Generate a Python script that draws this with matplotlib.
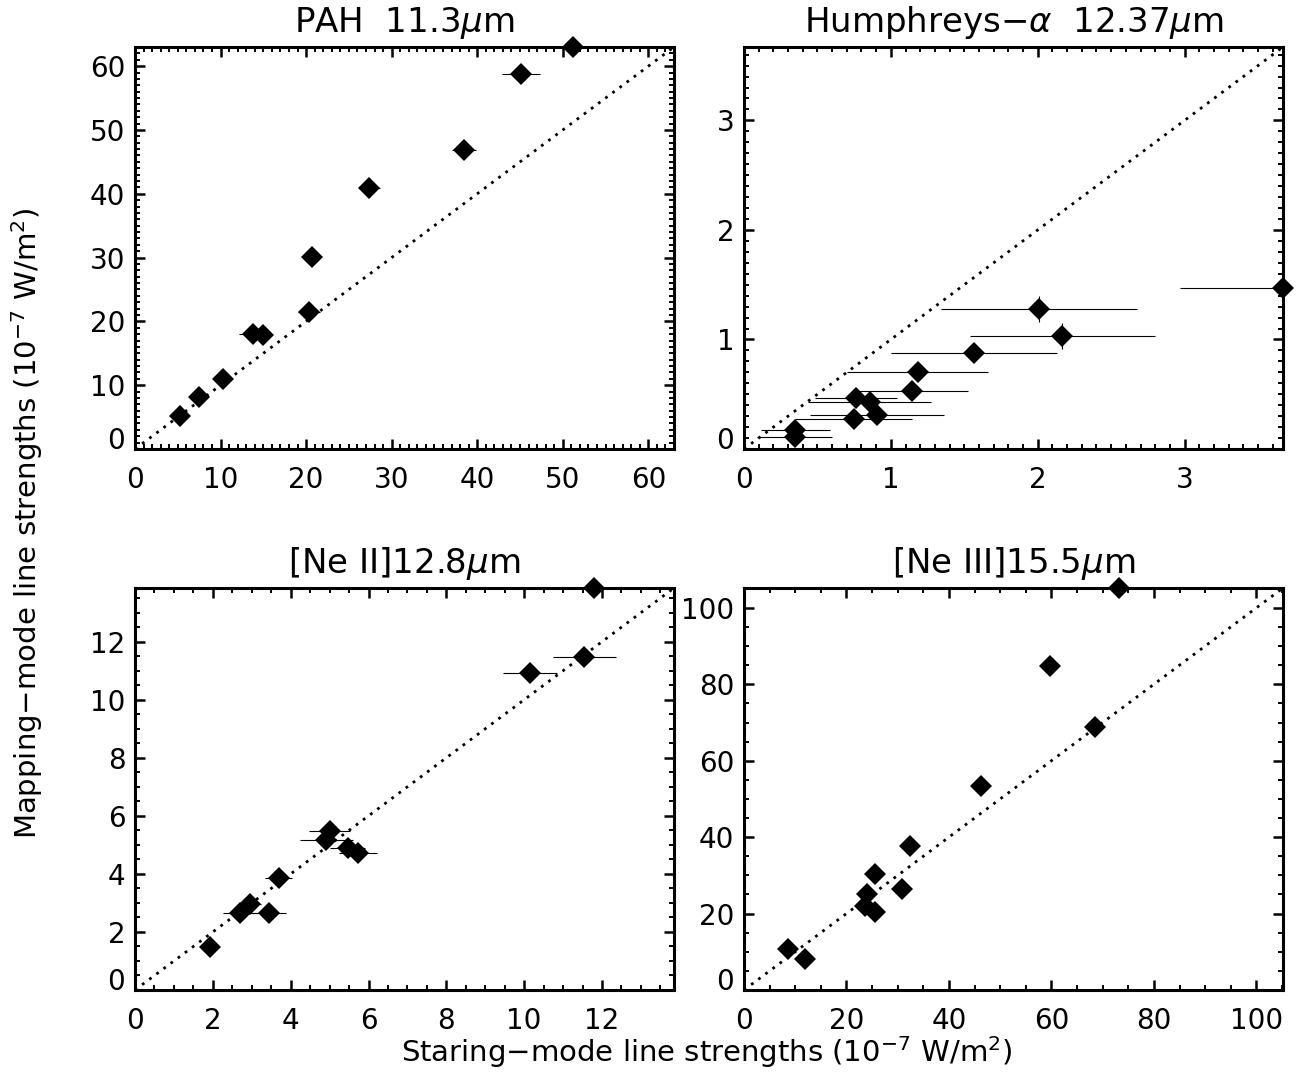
import matplotlib
matplotlib.use('Agg')
import matplotlib.pyplot as plt
from matplotlib.ticker import MultipleLocator

plt.rcParams['font.family'] = ['DejaVu Sans']
plt.rcParams['mathtext.fontset'] = 'dejavusans'

# ---------------- data ----------------
titles = ['PAH  11.3$\\mu$m', 'Humphreys\u2212$\\alpha$  12.37$\\mu$m',
          '[Ne II]12.8$\\mu$m', '[Ne III]15.5$\\mu$m']

pah_x = [5.25, 7.5, 10.3, 13.8, 15.0, 20.3, 20.7, 27.4, 38.4, 45.1, 51.2]
pah_y = [5.2, 8.2, 11.0, 18.0, 17.85, 21.5, 30.1, 40.9, 46.8, 58.8, 63.0]
pah_xerr = [0.5, 0.5, 0.4, 1.6, 0.8, 1.3, 0.5, 1.2, 1.4, 2.2, 0.6]
pah_yerr = [0.0] * 11

hum_x = [0.344, 0.348, 0.746, 0.761, 0.855, 0.907, 1.145, 1.184, 1.568, 2.009, 2.168, 3.67]
hum_y = [0.109, 0.178, 0.273, 0.469, 0.428, 0.31, 0.532, 0.705, 0.872, 1.276, 1.03, 1.47]
hum_xerr = [0.255, 0.235, 0.40, 0.28, 0.42, 0.455, 0.38, 0.48, 0.565, 0.67, 0.63, 0.70]
hum_yerr = [0.03, 0.03, 0.03, 0.03, 0.03, 0.03, 0.03, 0.03, 0.05, 0.12, 0.12, 0.05]

ne2_x = [1.92, 2.69, 2.95, 3.44, 3.69, 4.92, 5.0, 5.47, 5.72, 10.15, 11.55, 11.8]
ne2_y = [1.49, 2.65, 2.98, 2.66, 3.86, 5.17, 5.49, 4.88, 4.73, 10.92, 11.47, 13.85]
ne2_xerr = [0.2, 0.44, 0.3, 0.43, 0.34, 0.67, 0.53, 0.45, 0.49, 0.7, 0.8, 0.3]
ne2_yerr = [0.0] * 12

ne3_x = [8.5, 12.0, 23.7, 24.1, 25.5, 25.5, 30.9, 32.4, 46.3, 59.8, 68.5, 73.2]
ne3_y = [10.6, 8.2, 21.9, 25.2, 20.4, 30.3, 26.5, 37.6, 53.4, 84.8, 68.8, 105.2]
ne3_xerr = [0.0] * 12
ne3_yerr = [0.0] * 12

limits = [63.0, 3.67, 13.85, 105.2]
major_steps = [10, 1, 2, 20]
minor_steps = [1, 0.1, 0.5, 5]

datasets = [
    (pah_x, pah_y, pah_xerr, pah_yerr),
    (hum_x, hum_y, hum_xerr, hum_yerr),
    (ne2_x, ne2_y, ne2_xerr, ne2_yerr),
    (ne3_x, ne3_y, ne3_xerr, ne3_yerr),
]

xlabel = 'Staring\u2212mode line strengths (10$^{-7}$ W/m$^2$)'
ylabel = 'Mapping\u2212mode line strengths (10$^{-7}$ W/m$^2$)'

# ---------------- layout ----------------
W, H = 1313, 1074
fig = plt.figure(figsize=(W / 100, H / 100), dpi=100)

cols = [(135, 674), (744, 1283)]
rows = [(47, 449), (588, 990)]
positions = []
for (t, b) in rows:
    for (l, r) in cols:
        positions.append([l / W, 1 - b / H, (r - l) / W, (b - t) / H])

for i in range(4):
    ax = fig.add_axes(positions[i])
    x, y, xe, ye = datasets[i]
    M = limits[i]
    ax.plot([0, M], [0, M], color='black', lw=2.0, linestyle=(0, (1, 2.2)),
            zorder=2)
    ax.errorbar(x, y, xerr=xe, yerr=ye, fmt='none', ecolor='black',
                elinewidth=0.8, capsize=0, zorder=3)
    ax.plot(x, y, 'D', color='black', ms=11.5, mew=0, clip_on=False, zorder=5)
    ax.set_xlim(0, M)
    ax.set_ylim(0, M)
    ax.xaxis.set_major_locator(MultipleLocator(major_steps[i]))
    ax.yaxis.set_major_locator(MultipleLocator(major_steps[i]))
    ax.xaxis.set_minor_locator(MultipleLocator(minor_steps[i]))
    ax.yaxis.set_minor_locator(MultipleLocator(minor_steps[i]))
    ax.tick_params(which='both', direction='in', top=True, right=True,
                   labelsize=20)
    ax.tick_params(which='major', length=7.5, width=1.8)
    ax.tick_params(which='minor', length=3.5, width=1.4)
    ax.tick_params(axis='x', which='major', pad=12.5)
    ax.tick_params(axis='y', which='major', pad=7)
    for sp in ax.spines.values():
        sp.set_linewidth(2.2)
    ax.set_title(titles[i], fontsize=24.5, pad=11)
    # the "0" label on the y axis sits just above the bottom axis
    locs = ax.yaxis.get_majorticklocs()
    ticks = ax.yaxis.get_major_ticks(len(locs))
    for loc, t in zip(locs, ticks):
        if abs(loc) < 1e-9:
            t.label1.set_verticalalignment('baseline')

fig.text(707 / W, 1 - 1062 / H, xlabel, ha='center', va='baseline', fontsize=21)
fig.text(27 / W, 1 - 523 / H, ylabel, ha='center', va='center',
         rotation=90, fontsize=21)

fig.savefig('out.png', dpi=100)
